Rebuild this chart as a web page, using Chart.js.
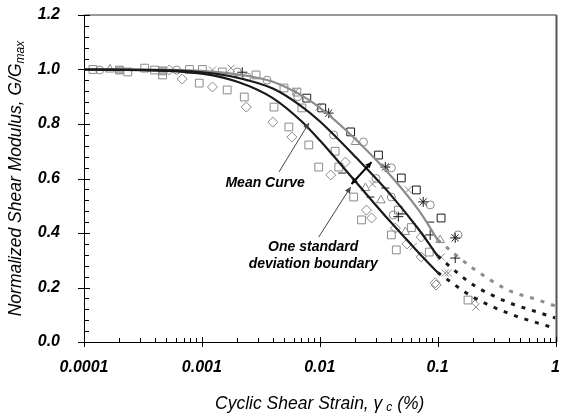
<!DOCTYPE html>
<html>
<head>
<meta charset="utf-8">
<script src="https://cdn.jsdelivr.net/npm/chart.js@4.4.1/dist/chart.umd.min.js"></script>
<style>
  html, body { margin: 0; padding: 0; background: #fff; }
</style>
</head>
<body>
<canvas id="gChart" width="562" height="418"></canvas>
<script>
// fitted curves
const curveStrain = [0.0001, 0.0003, 0.001, 0.002, 0.004, 0.007, 0.01, 0.02, 0.04, 0.07, 0.1];
const lowerG = [1.0, 0.998, 0.985, 0.955, 0.895, 0.81, 0.74, 0.59, 0.44, 0.325, 0.255];
const meanG  = [1.0, 0.999, 0.99, 0.97, 0.93, 0.865, 0.81, 0.68, 0.54, 0.41, 0.315];
const upperG = [1.0, 1.0, 0.995, 0.982, 0.955, 0.905, 0.86, 0.745, 0.61, 0.48, 0.375];

// dashed extrapolation beyond 0.1 %
const extStrain = [0.1, 0.2, 0.4, 0.7, 1];
const lowerExtG = [0.255, 0.165, 0.105, 0.07, 0.05];
const meanExtG  = [0.315, 0.21, 0.145, 0.11, 0.088];
const upperExtG = [0.375, 0.27, 0.19, 0.155, 0.132];

// test data [strain %, G/Gmax]
const squaresGray = [[0.000119,1.0],[0.000235,0.991],[0.000327,1.005],[0.000397,0.998],[0.000464,0.98],
  [0.000785,1.0],[0.00095,0.95],[0.00101,1.0],[0.00149,0.991],[0.00164,0.925],[0.00229,0.899],
  [0.00288,0.98],[0.00409,0.862],[0.00497,0.932],[0.00547,0.789],[0.0064,0.917],[0.00705,0.859],
  [0.00807,0.723],[0.0098,0.642],[0.0145,0.642],[0.0194,0.532],[0.0226,0.448],[0.0405,0.393],
  [0.0446,0.338],[0.0464,0.484],[0.181,0.154],[0.0135,0.7],[0.06,0.42],[0.085,0.33]];
const squaresBlack = [[0.00776,0.895],[0.0104,0.859],[0.0183,0.771],[0.0315,0.686],[0.0492,0.602],
  [0.066,0.558],[0.107,0.455]];
const squaresFilled = [[0.0002,0.998],[0.000464,0.995]];
const diamondsGray = [[0.00053,0.998],[0.00068,0.965],[0.00123,0.936],[0.00238,0.862],[0.004,0.807],
  [0.0058,0.752],[0.0124,0.613],[0.0249,0.484],[0.0275,0.455],[0.0438,0.418],[0.0726,0.385],
  [0.0726,0.312],[0.0953,0.217],[0.097,0.209],[0.0165,0.66],[0.055,0.36]];
const circlesGray = [[0.000136,0.998],[0.00061,0.998],[0.002,0.991],[0.00242,0.972],[0.00357,0.961],
  [0.0131,0.76],[0.0235,0.734],[0.0405,0.639],[0.0405,0.532],[0.042,0.466],[0.0865,0.503],[0.149,0.393],
  [0.0065,0.9],[0.03,0.6]];
const trianglesGray = [[0.000166,1.0],[0.0201,0.734],[0.0244,0.565],[0.0532,0.404],[0.105,0.374],
  [0.033,0.52]];
const crossesGray = [[0.00123,0.998],[0.00177,1.005],[0.00627,0.921],[0.0098,0.862],[0.0564,0.558],
  [0.107,0.312],[0.116,0.253],[0.123,0.253],[0.207,0.154],[0.211,0.128],[0.062,0.35],[0.028,0.58]];
const starsBlack = [[0.0119,0.84],[0.036,0.642],[0.0755,0.514],[0.141,0.382]];
const plusBlack = [[0.0865,0.393],[0.141,0.308],[0.0464,0.46],[0.0022,0.99]];
const dashesBlack = [[0.0269,0.532],[0.036,0.565],[0.0865,0.44],[0.0155,0.62],[0.05,0.47]];

const xTickLabels = ['0.0001', '0.001', '0.01', '0.1', '1'];

const GRAY = '#8a8a8a';
const BLACK = '#1a1a1a';

function pts(xs, ys) { return xs.map((x, i) => ({ x: x, y: ys[i] })); }
function pairs(list) { return list.map(p => ({ x: p[0], y: p[1] })); }

function curve(data, color, dashed) {
  return {
    data: data, showLine: true, pointRadius: 0, borderColor: color,
    borderWidth: dashed ? 3 : 2.2, borderDash: dashed ? [4, 7] : [],
    cubicInterpolationMode: 'monotone', fill: false
  };
}
function marks(list, style, color, r, fillCol) {
  return {
    data: pairs(list), showLine: false, pointStyle: style, pointRadius: r,
    borderColor: color, backgroundColor: fillCol || 'rgba(0,0,0,0)', borderWidth: 1
  };
}

const datasets = [
  curve(pts(curveStrain, lowerG), BLACK, false),
  curve(pts(curveStrain, meanG), BLACK, false),
  curve(pts(curveStrain, upperG), '#8c8c8c', false),
  curve(pts(extStrain, lowerExtG), BLACK, true),
  curve(pts(extStrain, meanExtG), BLACK, true),
  curve(pts(extStrain, upperExtG), '#8c8c8c', true),
  marks(squaresBlack, 'rect', BLACK, 5.5),
  marks(starsBlack, 'star', BLACK, 5),
  marks(plusBlack, 'cross', BLACK, 5),
  marks(dashesBlack, 'line', BLACK, 4),
  marks(squaresGray, 'rect', GRAY, 5.5),
  marks(squaresFilled, 'rect', GRAY, 5.5, '#b0b0b0'),
  marks(diamondsGray, 'rectRot', GRAY, 5),
  marks(circlesGray, 'circle', GRAY, 4),
  marks(trianglesGray, 'triangle', GRAY, 5),
  marks(crossesGray, 'crossRot', GRAY, 5)
];

const tickFont = { family: "'Liberation Sans', Arial, sans-serif", size: 16, weight: 'bold', style: 'italic' };

// frame, tick marks, titles and annotations
const decorations = {
  id: 'decorations',
  afterDraw(chart) {
    const { ctx, chartArea: a, scales: { x, y } } = chart;
    ctx.save();
    // top and right frame
    ctx.lineWidth = 2;
    ctx.strokeStyle = '#9a9a9a';
    ctx.beginPath(); ctx.moveTo(a.left, a.top); ctx.lineTo(a.right + 1, a.top); ctx.stroke();
    ctx.strokeStyle = '#555';
    ctx.beginPath(); ctx.moveTo(a.right + 1, a.top); ctx.lineTo(a.right + 1, a.bottom); ctx.stroke();

    // tick marks
    ctx.strokeStyle = '#000';
    ctx.lineWidth = 1;
    ctx.beginPath();
    for (let i = 0; i <= 30; i++) {
      const py = Math.round(y.getPixelForValue(i * 0.04)) + 0.5;
      const major = i % 5 === 0;
      ctx.moveTo(a.left - (major ? 6 : 0), py);
      ctx.lineTo(a.left + (major ? 6 : 5), py);
    }
    for (let d = -4; d <= 0; d++) {
      for (let m = 1; m <= 9; m++) {
        const v = m * Math.pow(10, d);
        if (v > 1.0001) break;
        const px = Math.round(x.getPixelForValue(v)) + 0.5;
        const major = m === 1;
        ctx.moveTo(px, a.bottom + (major ? 5 : 0));
        ctx.lineTo(px, a.bottom - (major ? 5 : 4));
      }
    }
    ctx.stroke();

    // axis titles
    ctx.fillStyle = '#000';
    ctx.textBaseline = 'alphabetic';
    const tf = "italic 17.5px 'Liberation Sans', Arial, sans-serif";
    const sf = "italic 12px 'Liberation Sans', Arial, sans-serif";
    // y title
    ctx.save();
    ctx.translate(21, (a.top + a.bottom) / 2);
    ctx.rotate(-Math.PI / 2);
    ctx.font = tf;
    const yMain = 'Normalized Shear Modulus, G/G';
    const w1 = ctx.measureText(yMain).width;
    ctx.font = sf;
    const w2 = ctx.measureText('max').width;
    let sx = -(w1 + w2) / 2;
    ctx.font = tf; ctx.textAlign = 'left';
    ctx.fillText(yMain, sx, 0);
    ctx.font = sf;
    ctx.fillText('max', sx + w1, 3);
    ctx.restore();
    // x title
    ctx.font = tf;
    const xa = 'Cyclic Shear Strain, \u03B3';
    const xb = ' (%)';
    const wa = ctx.measureText(xa).width;
    const wb = ctx.measureText(xb).width;
    ctx.font = sf;
    const wc = ctx.measureText('c').width + 4;
    let tx = (a.left + a.right) / 2 - (wa + wb + wc) / 2;
    const ty = 409;
    ctx.textAlign = 'left';
    ctx.font = tf; ctx.fillText(xa, tx, ty);
    ctx.font = sf; ctx.fillText('c', tx + wa + 4, ty + 2);
    ctx.font = tf; ctx.fillText(xb, tx + wa + wc, ty);

    // annotations (positions in data units)
    const P = (sv, gv) => [x.getPixelForValue(sv), y.getPixelForValue(gv)];
    ctx.font = "italic bold 14px 'Liberation Sans', Arial, sans-serif";
    ctx.textAlign = 'center';
    ctx.textBaseline = 'middle';
    let p = P(0.00344, 0.583); ctx.fillText('Mean Curve', p[0], p[1]);
    p = P(0.0088, 0.349); ctx.fillText('One standard', p[0], p[1]);
    p = P(0.0088, 0.286); ctx.fillText('deviation boundary', p[0], p[1]);

    function arrow(s0, g0, s1, g1, width, color, both) {
      const a0 = P(s0, g0), a1 = P(s1, g1);
      ctx.strokeStyle = color; ctx.fillStyle = color; ctx.lineWidth = width;
      ctx.beginPath(); ctx.moveTo(a0[0], a0[1]); ctx.lineTo(a1[0], a1[1]); ctx.stroke();
      const head = (from, to) => {
        const ang = Math.atan2(to[1] - from[1], to[0] - from[0]);
        const L = 6, W = 3;
        ctx.beginPath();
        ctx.moveTo(to[0], to[1]);
        ctx.lineTo(to[0] - L * Math.cos(ang) + W * Math.sin(ang), to[1] - L * Math.sin(ang) - W * Math.cos(ang));
        ctx.lineTo(to[0] - L * Math.cos(ang) - W * Math.sin(ang), to[1] - L * Math.sin(ang) + W * Math.cos(ang));
        ctx.closePath(); ctx.fill();
      };
      head(a0, a1);
      if (both) head(a1, a0);
    }
    arrow(0.00451, 0.624, 0.0081, 0.804, 1, '#444', false);
    arrow(0.0098, 0.385, 0.0183, 0.569, 1, '#444', false);
    arrow(0.0186, 0.58, 0.0275, 0.66, 2, '#000', true);
    ctx.restore();
  }
};

new Chart(document.getElementById('gChart').getContext('2d'), {
  type: 'scatter',
  data: { datasets: datasets },
  options: {
    responsive: false,
    animation: false,
    layout: { padding: { top: 15, right: 3, left: 0, bottom: 0 } },
    plugins: { legend: { display: false }, tooltip: { enabled: false } },
    scales: {
      x: {
        type: 'logarithmic', min: 0.0001, max: 1,
        afterFit(s) { s.height = 76; s.paddingLeft = 0; s.paddingRight = 0; },
        grid: { drawOnChartArea: false, drawTicks: false },
        border: { color: '#000', width: 1 },
        ticks: {
          autoSkip: false, maxRotation: 0, padding: 16, color: '#000', font: tickFont,
          callback(v) {
            const e = Math.log10(v);
            if (Math.abs(e - Math.round(e)) > 1e-6) return '';
            return xTickLabels[Math.round(e) + 4];
          }
        }
      },
      y: {
        min: 0, max: 1.2,
        afterFit(s) { s.width = 84; s.paddingTop = 0; s.paddingBottom = 0; },
        grid: { drawOnChartArea: false, drawTicks: false },
        border: { color: '#000', width: 1 },
        ticks: { stepSize: 0.2, padding: 24, color: '#000', font: tickFont, callback: v => v.toFixed(1) }
      }
    }
  },
  plugins: [decorations]
});
</script>
</body>
</html>
